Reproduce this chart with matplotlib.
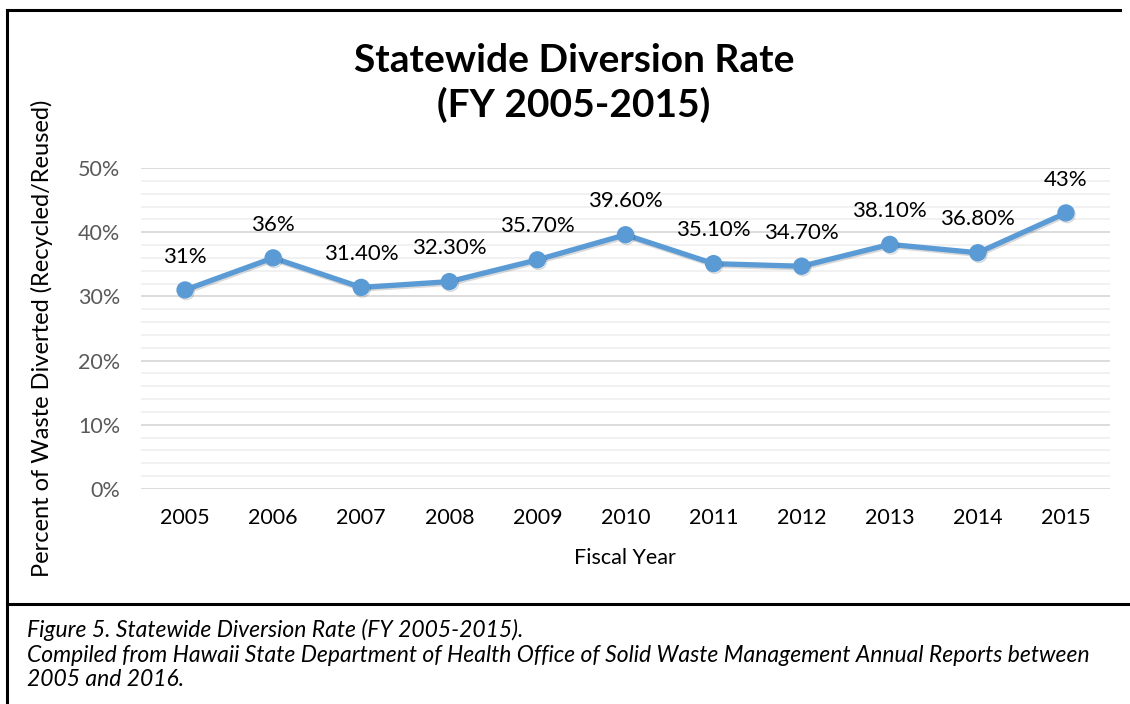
import matplotlib
matplotlib.use("Agg")
import matplotlib.pyplot as plt
import matplotlib.patheffects as pe
from matplotlib.lines import Line2D
from matplotlib.ticker import MultipleLocator, PercentFormatter

plt.rcParams['font.family'] = ['Lato', 'DejaVu Sans']

# --- data ---
years = ['2005', '2006', '2007', '2008', '2009', '2010',
         '2011', '2012', '2013', '2014', '2015']
rate = [0.31, 0.36, 0.314, 0.323, 0.357, 0.396,
        0.351, 0.347, 0.381, 0.368, 0.43]
point_labels = ['31%', '36%', '31.40%', '32.30%', '35.70%', '39.60%',
                '35.10%', '34.70%', '38.10%', '36.80%', '43%']

W, H = 1130, 704
fig = plt.figure(figsize=(W / 100, H / 100), dpi=100)

# plot area in pixel coords
left, right, top, bottom = 141, 1110, 168, 489
ax = fig.add_axes([left / W, 1 - bottom / H, (right - left) / W, (bottom - top) / H])

x = range(len(years))
ax.plot(x, rate, '-o', color='#5B9BD5', lw=3.8, markersize=11.5,
        solid_capstyle='round', zorder=3,
        path_effects=[pe.SimpleLineShadow(offset=(0.8, -1.2), alpha=0.15), pe.Normal()])

for i, (v, lab) in enumerate(zip(rate, point_labels)):
    ax.annotate(lab, (i, v), xytext=(0, 24), textcoords='offset points',
                ha='center', va='center', fontsize=16, color='#000000')

ax.set_xlim(-0.5, len(years) - 0.5)
ax.set_ylim(0, 0.5)
ax.set_xticks(list(x))
ax.set_xticklabels(years)
ax.yaxis.set_major_locator(MultipleLocator(0.1))
ax.yaxis.set_minor_locator(MultipleLocator(0.02))
ax.yaxis.set_major_formatter(PercentFormatter(1.0, decimals=0))

ax.grid(True, axis='y', which='major', color='#D9D9D9', lw=1.3, zorder=0)
ax.grid(True, axis='y', which='minor', color='#F0F0F0', lw=1.3, zorder=0)
ax.set_axisbelow(True)
for s in ax.spines.values():
    s.set_visible(False)
ax.tick_params(axis='both', which='both', length=0)
ax.tick_params(axis='y', labelsize=15.5, labelcolor='#595959', pad=15)
ax.tick_params(axis='x', labelsize=15.5, labelcolor='#000000', pad=14)

# titles and axis labels
fig.text(574 / W, 1 - 60 / H, 'Statewide Diversion Rate', ha='center', va='center',
         fontsize=28, fontweight='bold')
fig.text(574 / W, 1 - 105 / H, '(FY 2005-2015)', ha='center', va='center',
         fontsize=28, fontweight='bold')
fig.text(42 / W, 1 - 338 / H, 'Percent of Waste Diverted (Recycled/Reused)',
         rotation=90, ha='center', va='center', fontsize=17)
fig.text(625 / W, 1 - 558 / H, 'Fiscal Year', ha='center', va='center', fontsize=15.5)

# caption
caption = ['Figure 5. Statewide Diversion Rate (FY 2005-2015).',
           'Compiled from Hawaii State Department of Health Office of Solid Waste Management Annual Reports between',
           '2005 and 2016.']
for k, line in enumerate(caption):
    fig.text(27 / W, 1 - (630 + 25 * k) / H, line, ha='left', va='center',
             fontsize=16.5, style='italic')

# frame lines
lw = 2.2
fig.add_artist(Line2D([7 / W, 7 / W], [0, 1 - 10 / H], color='black', lw=lw))
fig.add_artist(Line2D([7 / W, 1120 / W], [1 - 10 / H, 1 - 10 / H], color='black', lw=lw))
fig.add_artist(Line2D([7 / W, 1], [1 - 604 / H, 1 - 604 / H], color='black', lw=lw))

fig.savefig('out.png', dpi=100)
